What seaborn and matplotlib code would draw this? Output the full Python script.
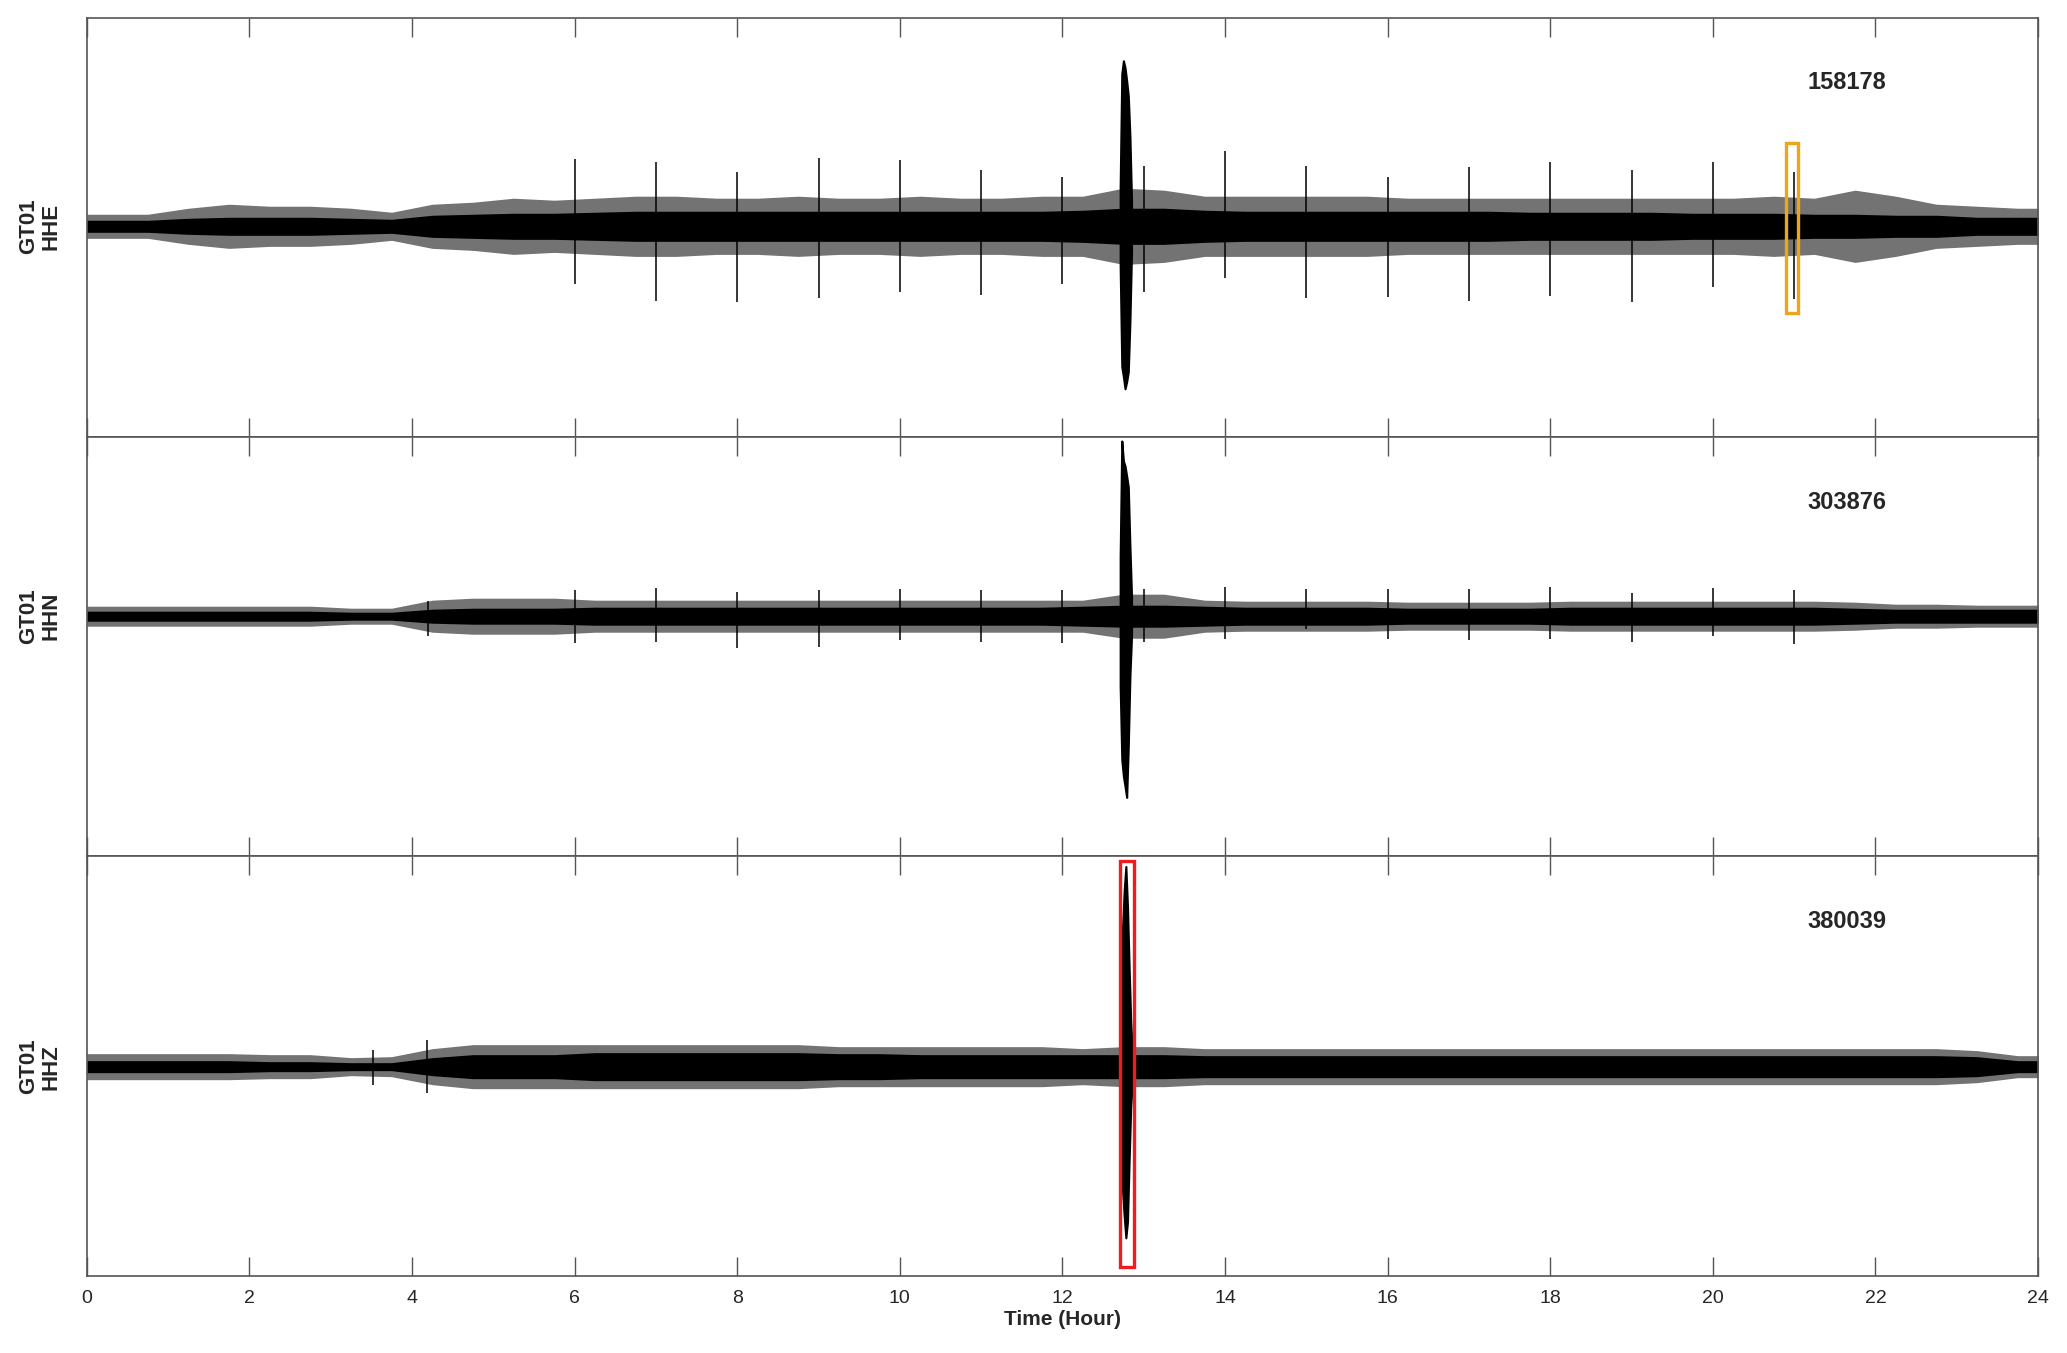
import numpy as np
import matplotlib
matplotlib.use("Agg")
import matplotlib.pyplot as plt
import seaborn as sns
from matplotlib.patches import Rectangle

# station / channel labels and peak counts shown on each trace
channels = ["GT01\nHHE", "GT01\nHHN", "GT01\nHHZ"]
peak_counts = ["158178", "303876", "380039"]
y_limits = [(-210, 208), (-240, 179), (-209, 210)]

# centres of half-hour bins over the day
hours = np.arange(0.25, 24, 0.5)

# dense core of the trace (half-width) and outer spiky envelope, per half hour
hhe_core = [6, 6, 8, 9, 9, 9, 8, 7, 11, 12, 13, 13, 14, 15, 15, 15, 15, 15, 15, 15, 15, 15, 15, 15,
            16, 18, 18, 16, 15, 15, 15, 15, 15, 15, 15, 14, 14, 14, 14, 13, 13, 13, 12, 12, 11, 11, 9, 9]
hhe_fuzz = [12, 12, 18, 22, 20, 20, 18, 14, 22, 24, 28, 26, 28, 30, 30, 28, 28, 30, 28, 28, 30, 28, 28, 30,
            30, 38, 36, 30, 30, 30, 30, 30, 28, 28, 28, 28, 28, 28, 28, 28, 28, 30, 28, 36, 30, 22, 20, 18]
hhn_core = [5, 5, 5, 5, 5, 5, 4, 4, 7, 8, 8, 8, 9, 9, 9, 9, 9, 9, 9, 9, 9, 9, 9, 9,
            10, 11, 11, 10, 9, 9, 9, 9, 8, 8, 8, 8, 9, 9, 9, 9, 9, 9, 9, 8, 7, 7, 7, 7]
hhn_fuzz = [10, 10, 10, 10, 10, 10, 8, 8, 16, 18, 18, 18, 16, 16, 16, 16, 16, 16, 16, 16, 16, 16, 16, 16,
            16, 22, 22, 16, 15, 15, 15, 15, 14, 14, 14, 14, 15, 15, 15, 15, 15, 15, 15, 14, 12, 12, 11, 11]
hhz_core = [6, 6, 6, 6, 5, 5, 4, 4, 9, 12, 12, 12, 14, 14, 14, 14, 14, 14, 13, 13, 12, 12, 12, 12,
            12, 12, 12, 11, 11, 11, 11, 11, 11, 11, 11, 11, 11, 11, 11, 11, 11, 11, 11, 11, 11, 11, 10, 6]
hhz_fuzz = [13, 13, 13, 13, 12, 12, 9, 10, 18, 22, 22, 22, 22, 22, 22, 22, 22, 22, 20, 20, 20, 20, 20, 20,
            18, 20, 20, 18, 18, 18, 18, 18, 18, 18, 18, 18, 18, 18, 18, 18, 18, 18, 18, 18, 18, 18, 16, 11]

# hourly pulses / isolated spikes: time (h), upward and downward reach
hhe_pulse_t = [6, 7, 8, 9, 10, 11, 12, 13, 14, 15, 16, 17, 18, 19, 20, 21]
hhe_pulse_up = [67, 64, 54, 68, 66, 56, 49, 60, 75, 60, 49, 59, 64, 56, 64, 54]
hhe_pulse_dn = [58, 74, 75, 71, 65, 68, 58, 65, 52, 71, 70, 74, 69, 75, 60, 72]
hhn_pulse_t = [4.2, 6, 7, 8, 9, 10, 11, 12, 13, 14, 15, 16, 17, 18, 19, 20, 21]
hhn_pulse_up = [15, 26, 28, 24, 26, 27, 26, 26, 27, 29, 27, 27, 27, 29, 23, 28, 26]
hhn_pulse_dn = [20, 27, 26, 32, 31, 24, 26, 27, 26, 23, 13, 23, 24, 23, 26, 20, 28]
hhz_pulse_t = [3.52, 4.19]
hhz_pulse_up = [17, 27]
hhz_pulse_dn = [18, 26]

# earthquake envelope around 12.8 h
hhe_eq_t = [12.71, 12.73, 12.75, 12.77, 12.79, 12.81, 12.83, 12.85]
hhe_eq_up = [40, 152, 165, 158, 145, 130, 90, 25]
hhe_eq_dn = [40, 140, 150, 162, 155, 145, 95, 25]
hhn_eq_t = [12.71, 12.73, 12.75, 12.77, 12.79, 12.81, 12.83, 12.85]
hhn_eq_up = [60, 175, 155, 150, 140, 129, 70, 20]
hhn_eq_dn = [70, 143, 160, 170, 181, 130, 60, 20]
hhz_eq_t = [12.72, 12.74, 12.76, 12.78, 12.80, 12.82, 12.84, 12.86]
hhz_eq_up = [50, 140, 177, 200, 160, 100, 45, 15]
hhz_eq_dn = [45, 125, 150, 171, 155, 95, 40, 15]

# highlight boxes
box_panel = [0, 2]
box_t = [(20.90, 21.05), (12.71, 12.88)]
box_y = [(-86, 83), (-200, 205)]
box_color = ["#EDA51C", "#EE1C1C"]

traces = [
    (hhe_core, hhe_fuzz, hhe_pulse_t, hhe_pulse_up, hhe_pulse_dn, hhe_eq_t, hhe_eq_up, hhe_eq_dn),
    (hhn_core, hhn_fuzz, hhn_pulse_t, hhn_pulse_up, hhn_pulse_dn, hhn_eq_t, hhn_eq_up, hhn_eq_dn),
    (hhz_core, hhz_fuzz, hhz_pulse_t, hhz_pulse_up, hhz_pulse_dn, hhz_eq_t, hhz_eq_up, hhz_eq_dn),
]

sns.set_style("white")
plt.rcParams["font.family"] = ["Liberation Sans Narrow", "Liberation Sans", "DejaVu Sans"]

fig, axes = plt.subplots(3, 1, figsize=(20.67, 13.53), dpi=100, sharex=True)
fig.subplots_adjust(left=0.042, right=0.986, top=0.987, bottom=0.057, hspace=0)

for i, ax in enumerate(axes):
    core, fuzz, pt, pu, pd_, et, eu, ed = traces[i]
    # carry first / last bin out to the day's edges
    x = np.concatenate([[0], hours, [24]])
    fz = np.array([fuzz[0]] + fuzz + [fuzz[-1]])
    cr = np.array([core[0]] + core + [core[-1]])
    ax.fill_between(x, -fz, fz, color="black", alpha=0.55, lw=0)
    ax.fill_between(x, -cr, cr, color="black", lw=0)
    ax.vlines(pt, -np.array(pd_), pu, color="black", lw=1.1)
    ax.fill_between(et, -np.array(ed), eu, color="black", lw=1.5, edgecolor="black")

    ax.set_xlim(0, 24)
    ax.set_ylim(*y_limits[i])
    ax.set_yticks([])
    ax.set_xticks(range(0, 25, 2))
    ax.tick_params(axis="x", direction="in", length=14, width=1, color="#555555",
                   top=True, bottom=True, labelsize=14, pad=10)
    for s in ax.spines.values():
        s.set_color("#555555")
        s.set_linewidth(1.2)

    ax.text(0.902, 0.845, peak_counts[i], transform=ax.transAxes, ha="center", va="center",
            fontsize=17, fontweight="bold")
    ax.text(-0.024, 0, channels[i], transform=ax.get_yaxis_transform(), rotation=90,
            ha="center", va="center", fontsize=16, fontweight="bold", multialignment="center",
            linespacing=1.1)

for p, (t0, t1), (y0, y1), c in zip(box_panel, box_t, box_y, box_color):
    axes[p].add_patch(Rectangle((t0, y0), t1 - t0, y1 - y0, fill=False, edgecolor=c, lw=2.4, zorder=5))

axes[2].set_xlabel("Time (Hour)", fontsize=15, fontweight="bold", labelpad=2)

fig.savefig("out.png", dpi=100)
